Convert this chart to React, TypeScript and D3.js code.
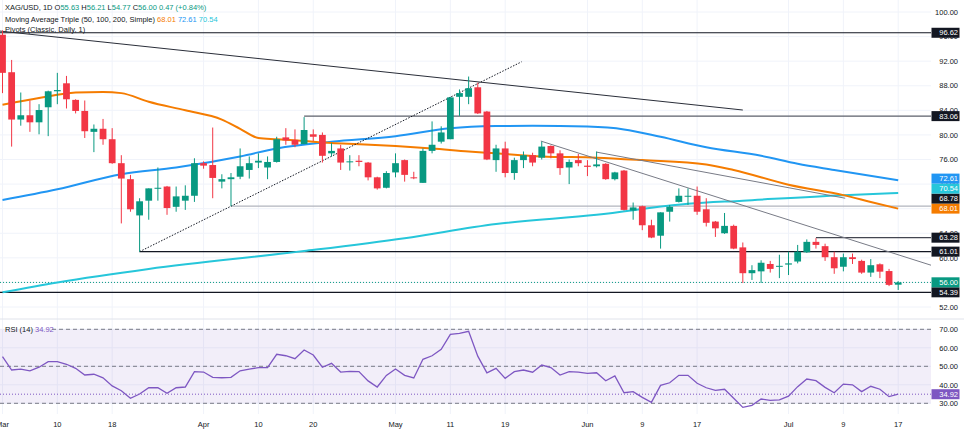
import * as d3 from "d3";

const W = 964;
const H = 432;
const PLOT_R = 931; // price labels start here

// daily candles, XAG/USD, 2 Mar .. 17 Jul: [open, high, low, close]
const candles: [number, number, number, number][] = [
  [96.3, 97.0, 86.8, 90.1], [90.2, 92.2, 78.1, 82.5], [82.5, 86.9, 81.5, 83.2], [83.2, 85.6, 80.5, 82.05],
  [82.05, 85.0, 80.1, 84.05], [84.5, 87.2, 79.8, 87.1], [87.1, 90.1, 85.0, 87.3], [88.4, 89.6, 84.3, 85.8],
  [85.7, 85.8, 83.5, 83.9], [83.9, 85.6, 79.5, 80.6], [80.5, 81.7, 77.2, 81.0], [81.0, 82.6, 78.4, 79.3],
  [79.3, 81.1, 75.3, 75.4], [75.4, 76.7, 65.6, 72.9], [72.8, 73.5, 67.5, 67.9], [66.9, 69.7, 61.0, 69.2],
  [69.3, 71.3, 66.2, 71.3], [71.3, 74.7, 69.3, 71.4], [71.6, 71.7, 67.0, 68.1], [68.3, 71.6, 67.5, 70.0],
  [69.3, 71.8, 67.8, 70.1], [70.1, 76.2, 69.1, 75.4], [75.4, 75.7, 74.5, 75.0], [75.1, 81.2, 69.7, 73.0],
  [72.4, 73.6, 71.3, 72.8], [72.8, 73.8, 68.4, 73.1], [73.2, 77.8, 72.8, 74.9], [74.3, 76.5, 72.9, 75.4],
  [75.5, 77.0, 74.6, 75.8], [74.7, 76.5, 72.8, 75.6], [75.6, 79.7, 75.5, 79.3], [79.6, 81.1, 78.4, 79.1],
  [79.2, 80.9, 78.0, 78.4], [78.5, 82.9, 78.5, 80.8], [80.1, 80.9, 79.0, 79.7], [80.0, 80.4, 75.5, 76.6],
  [77.0, 78.7, 76.5, 77.4], [77.8, 78.4, 74.3, 75.5], [75.6, 76.7, 74.2, 75.7], [75.8, 76.7, 74.9, 75.6],
  [75.5, 75.6, 72.6, 73.1], [73.1, 73.2, 71.1, 71.3], [71.4, 74.1, 71.3, 73.8], [73.9, 77.0, 73.1, 75.4],
  [75.9, 76.0, 72.4, 73.5], [73.1, 74.0, 72.8, 73.0], [72.2, 77.8, 72.2, 77.4], [77.4, 82.2, 77.0, 78.4],
  [78.9, 81.4, 78.6, 80.4], [79.3, 86.2, 79.3, 86.1], [86.2, 87.4, 83.1, 86.8], [86.2, 89.5, 85.0, 87.6],
  [87.75, 88.5, 83.4, 83.5], [83.8, 83.9, 75.9, 76.0], [75.9, 78.4, 74.0, 77.8], [77.8, 78.9, 73.1, 73.8],
  [73.8, 76.3, 72.7, 75.9], [75.9, 77.3, 74.6, 76.7], [76.7, 77.1, 74.9, 75.5], [76.3, 78.9, 76.0, 78.1],
  [78.2, 78.3, 76.2, 77.0], [77.0, 77.5, 73.5, 74.6], [74.7, 76.0, 72.0, 75.6], [75.9, 76.9, 74.9, 75.4],
  [75.0, 75.9, 73.3, 74.8], [74.9, 77.3, 74.7, 75.2], [75.3, 75.4, 72.7, 72.8], [72.8, 74.0, 72.6, 73.9],
  [74.2, 74.3, 67.7, 67.8], [67.7, 69.0, 66.2, 68.2], [68.4, 68.5, 64.5, 65.3], [65.3, 66.2, 63.2, 63.3],
  [63.6, 67.4, 61.5, 67.4], [67.5, 68.6, 65.9, 68.3], [69.1, 71.3, 69.0, 70.1], [70.0, 71.3, 68.6, 70.1],
  [70.1, 71.6, 67.0, 67.5], [67.9, 69.7, 65.1, 65.7], [65.9, 66.0, 63.4, 64.8], [64.0, 67.3, 63.9, 65.2],
  [65.2, 65.4, 61.4, 61.5], [61.7, 62.5, 55.9, 57.5], [57.5, 58.8, 56.4, 58.0], [57.8, 59.6, 55.9, 59.2],
  [59.0, 59.5, 57.6, 58.2], [58.6, 60.5, 56.7, 58.7], [58.9, 61.0, 57.2, 59.1], [59.4, 62.1, 59.1, 61.0],
  [60.9, 63.0, 60.8, 62.6], [62.6, 63.2, 61.5, 62.1], [61.9, 62.3, 59.5, 60.1], [60.1, 61.0, 57.4, 58.3],
  [58.55, 60.7, 57.8, 60.1], [60.1, 60.7, 59.0, 59.8], [59.5, 59.7, 57.4, 57.6], [57.6, 59.8, 56.9, 58.8],
  [58.95, 59.1, 56.7, 57.75], [57.85, 58.2, 55.4, 55.6], [55.63, 56.21, 54.77, 56.0],
];

// moving averages read at selected candles
const ma50Idx = [0, 4, 8, 11, 13, 16, 20, 24, 26, 28, 30, 33, 36, 39, 43, 47, 51, 54, 59, 65, 70, 77, 80, 86, 92, 95, 98];
const ma50Val = [84.9, 86.0, 86.9, 87.0, 86.8, 85.4, 84.0, 82.5, 81.0, 79.5, 79.3, 79.0, 78.7, 78.5, 78.2, 77.8, 77.3, 77.0, 76.5, 76.3, 75.9, 75.2, 74.3, 71.9, 70.2, 69.1, 68.01];
const ma100Idx = [0, 6, 13, 19, 26, 30, 36, 43, 49, 54, 58, 64, 68, 72, 77, 83, 87, 91, 98];
const ma100Val = [69.4, 71.15, 73.6, 74.7, 76.5, 77.8, 78.9, 79.8, 81.1, 81.45, 81.5, 81.35, 80.9, 79.7, 78.0, 76.6, 75.3, 74.3, 72.61];
const ma200Idx = [0, 6, 16, 33, 44, 54, 65, 75, 81, 92, 98];
const ma200Val = [54.4, 56.0, 58.2, 61.1, 63.2, 65.5, 67.0, 68.8, 69.3, 70.2, 70.54];

const rsi = [
  55.2, 48.0, 48.5, 47.5, 49.5, 52.5, 52.5, 51.1, 48.9, 45.3, 45.7, 43.8, 39.4, 36.8, 32.7, 35.0,
  38.4, 38.4, 35.4, 38.4, 38.8, 47.1, 46.9, 44.0, 43.8, 44.0, 47.6, 48.5, 49.3, 49.3, 56.5, 55.7,
  54.1, 58.8, 56.1, 49.5, 51.6, 46.9, 47.3, 47.1, 42.1, 38.8, 45.1, 48.5, 45.1, 43.7, 53.8, 55.7,
  59.2, 67.3, 67.8, 68.9, 55.5, 46.5, 48.9, 43.5, 47.1, 48.0, 46.8, 50.7, 49.3, 45.3, 47.1, 46.8,
  46.2, 46.5, 42.2, 44.8, 35.7, 36.3, 33.2, 30.5, 39.7, 41.1, 45.1, 45.1, 40.8, 38.4, 37.0, 37.6,
  32.7, 27.8, 28.9, 32.3, 31.6, 31.8, 33.9, 39.0, 43.1, 42.2, 38.6, 35.7, 40.4, 40.0, 36.3, 39.2,
  37.6, 33.6, 34.92,
];

// date labels and the candle they sit on
const dateLabels = ["Mar", "10", "18", "Apr", "10", "20", "May", "11", "19", "Jun", "9", "17", "Jul", "9", "17"];
const dateIdx = [0, 6, 12, 22, 28, 34, 43, 49, 55, 64, 70, 76, 86, 92, 98];

const priceTicks = d3.range(52, 100.01, 4);
const rsiTicks = [30, 40, 50, 60, 70];

// horizontal rays: level, first candle, colour
const rays: { v: number; from: number; color: string }[] = [
  { v: 96.62, from: -1, color: "#131722" },
  { v: 83.06, from: 33, color: "#5d606b" },
  { v: 68.4, from: 25, color: "#b2b5be" },
  { v: 63.28, from: 89, color: "#434651" },
  { v: 61.01, from: 15, color: "#131722" },
  { v: 54.39, from: -1, color: "#131722" },
];

// trend lines [idx, price] -> [idx, price]
const trends: { a: [number, number]; b: [number, number]; color: string; dash?: string }[] = [
  { a: [-0.3, 96.9], b: [81.0, 84.05], color: "#2a2e39" },
  { a: [15, 61.01], b: [56.8, 91.9], color: "#131722", dash: "1.5,1.5" },
  { a: [58.9, 79.0], b: [101.8, 58.7], color: "#787b86" },
  { a: [65.0, 77.2], b: [92.2, 69.7], color: "#787b86" },
];

const axisLabels: { v: number; bg: string }[] = [
  { v: 96.62, bg: "#131722" },
  { v: 83.06, bg: "#131722" },
  { v: 72.61, bg: "#2196f3" },
  { v: 70.54, bg: "#26c6da" },
  { v: 68.78, bg: "#131722" },
  { v: 68.01, bg: "#f57c00" },
  { v: 63.28, bg: "#131722" },
  { v: 61.01, bg: "#131722" },
  { v: 56.0, bg: "#089981" },
  { v: 54.39, bg: "#131722" },
];

const UP = "#089981";
const DOWN = "#f23645";
const FONT = "'Liberation Sans', Arial, sans-serif";

export default function App() {
  const x = d3.scaleLinear().domain([0, 98]).range([2.5, 898.2]);
  const yP = d3.scaleLinear().domain([52, 100]).range([307, 12]);
  const yR = d3.scaleLinear().domain([30, 70]).range([403.3, 329.3]);
  const bw = (x(1) - x(0)) * 0.74;

  const maLine = (idx: number[], val: number[]) =>
    d3
      .line<number>()
      .x((_, i) => x(idx[i]))
      .y((v) => yP(v))
      .curve(d3.curveMonotoneX)(val) ?? "";

  const rsiPath =
    d3
      .line<number>()
      .x((_, i) => x(i))
      .y((v) => yR(v))(rsi) ?? "";

  // stack price labels so they do not overlap (bottom up)
  const sorted = axisLabels
    .map((l) => ({ ...l, y: yP(l.v) }))
    .sort((a, b) => b.y - a.y);
  for (let i = 1; i < sorted.length; i++) {
    sorted[i].y = Math.min(sorted[i].y, sorted[i - 1].y - 10);
  }

  const last = candles[candles.length - 1];
  const rsiLast = rsi[rsi.length - 1];

  return (
    <>
      <style>{`body{margin:0}`}</style>
      <svg width={W} height={H} style={{ display: "block", fontFamily: FONT }}>
        <defs>
          <clipPath id="plot">
            <rect x={0} y={0} width={PLOT_R} height={318} />
          </clipPath>
        </defs>
        <rect width={W} height={H} fill="#fff" />

        {/* grid */}
        {priceTicks.map((t) => (
          <line key={`gp${t}`} x1={0} x2={PLOT_R} y1={yP(t)} y2={yP(t)} stroke="#f0f3fa" />
        ))}
        {rsiTicks.map((t) => (
          <line key={`gr${t}`} x1={0} x2={PLOT_R} y1={yR(t)} y2={yR(t)} stroke="#f0f3fa" />
        ))}
        {dateIdx.map((d, i) => (
          <line key={`gx${i}`} x1={x(d)} x2={x(d)} y1={0} y2={414} stroke="#f0f3fa" />
        ))}
        <line x1={0} x2={W} y1={319} y2={319} stroke="#e0e3eb" />

        <g clipPath="url(#plot)">
          {/* horizontal rays */}
          {rays.map((r, i) => (
            <line
              key={`ray${i}`}
              x1={r.from < 0 ? 0 : x(r.from)}
              x2={PLOT_R}
              y1={yP(r.v)}
              y2={yP(r.v)}
              stroke={r.color}
              strokeWidth={1.2}
            />
          ))}
          {/* last price line */}
          <line
            x1={0}
            x2={PLOT_R}
            y1={yP(last[3])}
            y2={yP(last[3])}
            stroke={UP}
            strokeDasharray="1,2"
          />

          {/* moving averages */}
          <path d={maLine(ma200Idx, ma200Val)} fill="none" stroke="#26c6da" strokeWidth={2} />
          <path d={maLine(ma100Idx, ma100Val)} fill="none" stroke="#2196f3" strokeWidth={2} />
          <path d={maLine(ma50Idx, ma50Val)} fill="none" stroke="#f57c00" strokeWidth={2} />

          {/* trend lines */}
          {trends.map((t, i) => (
            <line
              key={`tr${i}`}
              x1={x(t.a[0])}
              y1={yP(t.a[1])}
              x2={x(t.b[0])}
              y2={yP(t.b[1])}
              stroke={t.color}
              strokeWidth={1}
              strokeDasharray={t.dash}
            />
          ))}

          {/* candles */}
          {candles.map(([o, h, l, c], i) => {
            const col = c >= o ? UP : DOWN;
            const top = yP(Math.max(o, c));
            const bh = Math.max(1, yP(Math.min(o, c)) - top);
            return (
              <g key={`c${i}`}>
                <line x1={x(i)} x2={x(i)} y1={yP(h)} y2={yP(l)} stroke={col} strokeWidth={1} />
                <rect x={x(i) - bw / 2} y={top} width={bw} height={bh} fill={col} />
              </g>
            );
          })}
        </g>

        {/* RSI panel */}
        <rect
          x={0}
          y={yR(70)}
          width={PLOT_R}
          height={yR(30) - yR(70)}
          fill="#7e57c2"
          fillOpacity={0.1}
        />
        {[70, 50, 30].map((t) => (
          <line
            key={`rl${t}`}
            x1={t === 70 ? 52 : 0}
            x2={PLOT_R}
            y1={yR(t)}
            y2={yR(t)}
            stroke="#787b86"
            strokeDasharray="4,3"
          />
        ))}
        <line
          x1={0}
          x2={PLOT_R}
          y1={yR(rsiLast)}
          y2={yR(rsiLast)}
          stroke="#7e57c2"
          strokeDasharray="1,2"
        />
        <path d={rsiPath} fill="none" stroke="#7e57c2" strokeWidth={1.3} />

        {/* price axis ticks */}
        {priceTicks.map((t) => (
          <text key={`pt${t}`} x={958} y={yP(t) + 2.7} fontSize={7.5} textAnchor="end" fill="#131722">
            {t.toFixed(2)}
          </text>
        ))}
        {rsiTicks.map((t) => (
          <text key={`rt${t}`} x={958} y={yR(t) + 2.7} fontSize={7.5} textAnchor="end" fill="#131722">
            {t.toFixed(2)}
          </text>
        ))}

        {/* price label boxes */}
        {sorted.map((l) => (
          <g key={`lb${l.v}`}>
            <rect x={931.5} y={l.y - 5} width={28} height={10} fill={l.bg} />
            <text x={958} y={l.y + 2.7} fontSize={7.5} textAnchor="end" fill="#fff">
              {l.v.toFixed(2)}
            </text>
          </g>
        ))}
        <rect x={931.5} y={yR(rsiLast) - 5} width={28} height={10} fill="#7e57c2" />
        <text x={958} y={yR(rsiLast) + 2.7} fontSize={7.5} textAnchor="end" fill="#fff">
          {rsiLast.toFixed(2)}
        </text>

        {/* date axis */}
        {dateLabels.map((d, i) => (
          <text key={`dl${i}`} x={x(dateIdx[i])} y={427} fontSize={7.5} textAnchor="middle" fill="#131722">
            {d}
          </text>
        ))}

        {/* legends */}
        <text x={5} y={10} fontSize={7.5} fill="#131722">
          XAG/USD, 1D{"  "}
          <tspan>O</tspan>
          <tspan fill={UP}>{last[0].toFixed(2)}</tspan>
          <tspan> H</tspan>
          <tspan fill={UP}>{last[1].toFixed(2)}</tspan>
          <tspan> L</tspan>
          <tspan fill={UP}>{last[2].toFixed(2)}</tspan>
          <tspan> C</tspan>
          <tspan fill={UP}>{last[3].toFixed(2)} 0.47 (+0.84%)</tspan>
        </text>
        <text x={5} y={21.5} fontSize={7.5} fill="#131722">
          Moving Average Triple (50, 100, 200, Simple){"  "}
          <tspan fill="#f57c00">{ma50Val[ma50Val.length - 1].toFixed(2)}</tspan>
          <tspan fill="#2196f3"> {ma100Val[ma100Val.length - 1].toFixed(2)}</tspan>
          <tspan fill="#26c6da"> {ma200Val[ma200Val.length - 1].toFixed(2)}</tspan>
        </text>
        <text x={5} y={32} fontSize={7.5} fill="#131722">
          Pivots (Classic, Daily, 1)
        </text>
        <text x={5} y={331.5} fontSize={7.5} fill="#131722">
          RSI (14) <tspan fill="#7e57c2">{rsiLast.toFixed(2)}</tspan>
        </text>
      </svg>
    </>
  );
}
